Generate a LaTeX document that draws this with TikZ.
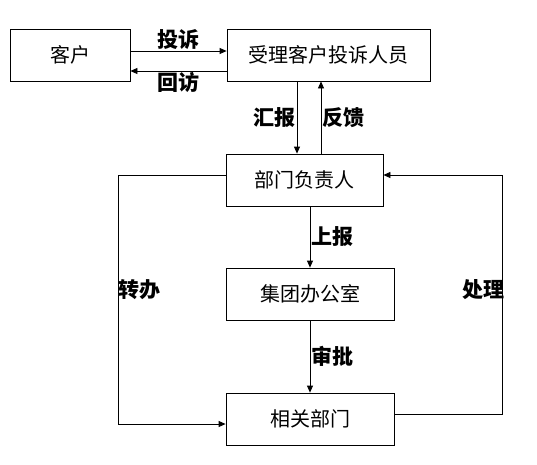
\documentclass[tikz,border=0pt]{standalone}
\usepackage{fontspec}
\newfontfamily\cjk{Noto Sans CJK SC}
\usetikzlibrary{arrows.meta}

\tikzset{
    box/.style = {draw, inner sep = 0pt, minimum height = 52pt,
                  font = \cjk\fontsize{20}{22}\selectfont},
    lbl/.style = {inner sep = 1pt, font = \cjk\bfseries\fontsize{21}{23}\selectfont},
    arr/.style = {-{Triangle[length = 7pt, width = 6pt]}}
}

\begin{document}
\begin{tikzpicture}[x = 1pt, y = -1pt, every path/.style = {line width = 0.8pt}]

        \useasboundingbox (0,0) rectangle (537,464);

        % The boxes.
        \node[box, minimum width = 120pt] (kh) at (70,55) {客户};
        \node[box, minimum width = 203pt] (sl) at (328.5,55) {受理客户投诉人员};
        \node[box, minimum width = 157pt] (bm) at (304.5,180) {部门负责人};
        \node[box, minimum width = 168pt] (jt) at (310,294) {集团办公室};
        \node[box, minimum width = 168pt] (xg) at (310,419) {相关部门};

        % Corners of the two side loops.
        \coordinate (LT) at (118,175);
        \coordinate (LB) at (118,424);
        \coordinate (RB) at (502,414);
        \coordinate (RT) at (502,175);

        % Between the client and the staff.
        \draw[arr] (kh.east |- 0,51) to node[lbl, above] {投诉} (sl.west |- 0,51);
        \draw[arr] (sl.west |- 0,71) to node[lbl, below] {回访} (kh.east |- 0,71);

        % Down to the department.
        \draw[arr] (sl.south -| 297,0) to node[lbl, left] {汇报} (bm.north -| 297,0);
        \draw[arr] (bm.north -| 321,0) to node[lbl, right] {反馈} (sl.south -| 321,0);

        % The middle column.
        \draw[arr] (bm.south -| jt.north) to node[lbl, right] {上报} (jt.north);
        \draw[arr] (jt) to node[lbl, right] {审批} (xg);

        % The side loops.
        \draw[arr] (bm.west |- LT) -- (LT) to node[lbl, right, inner sep = 0pt, pos = 0.46] {转办} (LB) -- (xg.west |- LB);
        \draw[arr] (xg.east |- RB) -- (RB) to node[lbl, left, inner sep = 0pt, xshift = 3pt, pos = 0.52] {处理} (RT) -- (bm.east |- RT);

    \end{tikzpicture}
\end{document}
